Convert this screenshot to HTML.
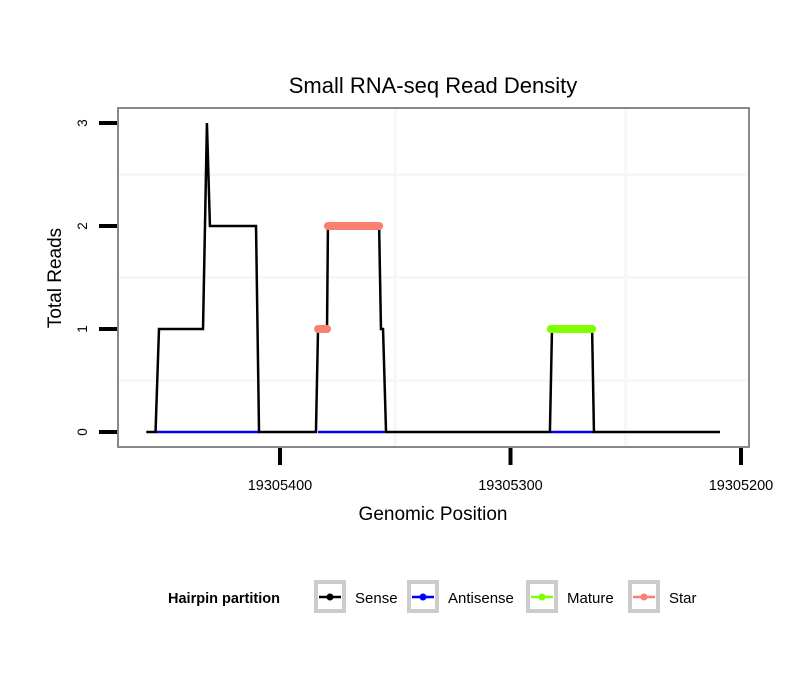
<!DOCTYPE html>
<html><head><meta charset="utf-8"><style>
body{margin:0;background:#fff;}
svg text{font-family:"Liberation Sans",sans-serif;}
</style></head><body>
<svg id="chart" width="810" height="690" xmlns="http://www.w3.org/2000/svg">
<rect width="810" height="690" fill="#fff"/>
<text x="433" y="93" font-size="22" text-anchor="middle">Small RNA-seq Read Density</text>
<g id="grid"></g>
<g id="series"></g>
<rect x="118" y="108" width="631" height="339" fill="none" stroke="#888" stroke-width="2"/>
<g id="axes"></g>
<text x="433" y="520" font-size="19" text-anchor="middle">Genomic Position</text>
<text transform="translate(61,278) rotate(-90)" font-size="19" text-anchor="middle">Total Reads</text>
<g>
<text x="168" y="603" font-size="14.5" font-weight="bold">Hairpin partition</text>
<g id="legend"></g>
</g>
</svg>
<script>
// data (genomic positions, reversed axis)
const xTicks = [19305400, 19305300, 19305200];
const yTicks = [0, 1, 2, 3];
const senseX = [19305458,19305454,19305452.5,19305433.4,19305431.7,19305430.4,19305410.4,19305409.1,19305384.4,19305383.5,19305379.6,19305379.2,19305357,19305356.2,19305355.3,19305354,19305282.9,19305282,19305264.6,19305263.8,19305209.1];
const senseY = [0,0,1,1,3,2,2,0,0,1,1,2,2,1,1,0,0,1,1,0,0];
const antiSegs = [[19305454,19305409.1],[19305383.5,19305354.5],[19305282.5,19305263.8]];
const starSegs = [[19305383.5,19305379.6,1],[19305379.2,19305357,2]];
const matureSegs = [[19305282.5,19305264.6,1]];
const legendNames = ["Sense","Antisense","Mature","Star"];
const legendColors = ["#000","#0000ff","#7fff00","#fa8072"];

const NS="http://www.w3.org/2000/svg";
function X(v){return 280+(19305400-v)*2.305;}
function Y(v){return 432-v*103;}
function mk(tag,attrs,parent){const e=document.createElementNS(NS,tag);for(const k in attrs)e.setAttribute(k,attrs[k]);parent.appendChild(e);return e;}
const grid=document.getElementById('grid'),ser=document.getElementById('series'),axes=document.getElementById('axes'),leg=document.getElementById('legend');
// grid (faint, between ticks)
for(let v=0.5;v<=2.5;v+=1){const y=Y(v);
 const l=mk('line',{x1:119,x2:748,y1:y,y2:y,stroke:'#f7f7f7','stroke-width':3},grid);
 
 }
for(let v=19305350;v>=19305250;v-=100){const x=X(v);
 const l=mk('line',{x1:x,x2:x,y1:109,y2:446,stroke:'#f7f7f7','stroke-width':3},grid);
 
 }
// antisense
antiSegs.forEach(s=>{const l=mk('line',{x1:X(s[0]),x2:X(s[1]),y1:Y(0),y2:Y(0),stroke:'#0000ff','stroke-width':2.5},ser);
 
 });
// sense
const pts=senseX.map((v,i)=>X(v)+','+Y(senseY[i])).join(' ');
const sp=mk('polyline',{points:pts,fill:'none',stroke:'#000','stroke-width':2.5},ser);


// mature & star
function thick(segs,color,name){segs.forEach(s=>{const l=mk('line',{x1:X(s[0]),x2:X(s[1]),y1:Y(s[2]),y2:Y(s[2]),stroke:color,'stroke-width':8,'stroke-linecap':'round'},ser);
 
 });}
thick(starSegs,'#fa8072','star-segment');
thick(matureSegs,'#7fff00','mature-segment');
// axes
yTicks.forEach(v=>{const y=Y(v);
 const t=mk('line',{x1:99,x2:117,y1:y,y2:y,stroke:'#000','stroke-width':4},axes);
 
 
 const tx=mk('text',{transform:`translate(87,${y}) rotate(-90)`,'font-size':13.5,'text-anchor':'middle'},axes);tx.textContent=v;
 
 });
xTicks.forEach(v=>{const x=X(v);
 const t=mk('line',{x1:x,x2:x,y1:448,y2:465,stroke:'#000','stroke-width':4},axes);
 
 
 const tx=mk('text',{x:x,y:490,'font-size':14.5,'text-anchor':'middle'},axes);tx.textContent=v;
 
 });
// legend
const lx=[314,407,526,628];
legendNames.forEach((n,i)=>{const x=lx[i];
 const b=mk('rect',{x:x+2,y:582,width:28,height:29,fill:'#fff',stroke:'#ccc','stroke-width':4},leg);
 
 
 mk('line',{x1:x+5,x2:x+27,y1:597,y2:597,stroke:legendColors[i],'stroke-width':2.5},leg);
 mk('circle',{cx:x+16,cy:597,r:3.5,fill:legendColors[i]},leg);
 const t=mk('text',{x:x+41,y:603,'font-size':15},leg);t.textContent=n;
 
 });
</script>
</body></html>
